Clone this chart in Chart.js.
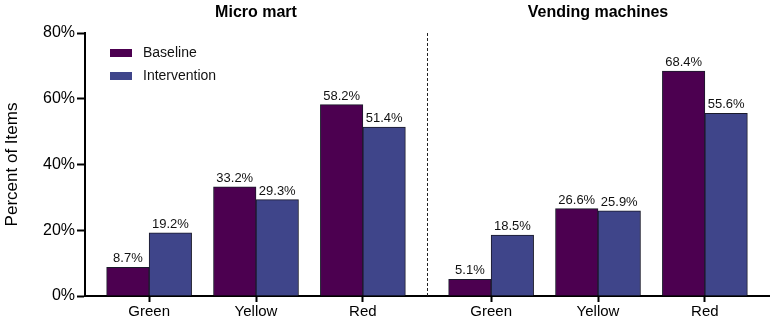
<!DOCTYPE html>
<html>
<head>
<meta charset="utf-8">
<script src="https://cdn.jsdelivr.net/npm/chart.js@4.4.1/dist/chart.umd.min.js"></script>
<style>
  html, body { margin: 0; padding: 0; background: #fff; }
  #wrap { width: 774px; height: 325px; }
</style>
</head>
<body>
<div id="wrap"><canvas id="barChart"></canvas></div>
<script>
// categories and where they sit on the x axis (gap between the two settings)
const categories = ["Green", "Yellow", "Red", "Green", "Yellow", "Red"];
const positions = [0, 1, 2, 3.2, 4.2, 5.2];
const groupTitles = ["Micro mart", "Vending machines"];
const groupCenters = [1, 4.2];
const dividerAt = 2.6;

const seriesNames = ["Baseline", "Intervention"];
const baseline = [8.7, 33.2, 58.2, 5.1, 26.6, 68.4];
const intervention = [19.2, 29.3, 51.4, 18.5, 25.9, 55.6];
const yTicks = [0, 20, 40, 60, 80];

const colors = ["#4c0050", "#3f458a"];
const font = "'Liberation Sans', Arial, sans-serif";

function toPoints(values) {
  return values.map((v, i) => ({ x: positions[i], y: v }));
}

const extras = {
  id: "extras",
  afterDatasetsDraw(chart) {
    const ctx = chart.ctx;
    const area = chart.chartArea;
    const xs = chart.scales.x;

    // value labels above bars
    ctx.save();
    ctx.fillStyle = "#111";
    ctx.font = "13px " + font;
    ctx.textAlign = "center";
    ctx.textBaseline = "bottom";
    chart.data.datasets.forEach((ds, di) => {
      chart.getDatasetMeta(di).data.forEach((bar, i) => {
        ctx.fillText(ds.data[i].y.toFixed(1) + "%", bar.x, bar.y - 2);
      });
    });

    // dashed divider
    const dx = Math.round(xs.getPixelForValue(dividerAt)) + 0.5;
    ctx.strokeStyle = "#222";
    ctx.lineWidth = 1;
    ctx.setLineDash([3, 2]);
    ctx.beginPath();
    ctx.moveTo(dx, area.top);
    ctx.lineTo(dx, area.bottom);
    ctx.stroke();
    ctx.setLineDash([]);

    // group titles
    ctx.fillStyle = "#000";
    ctx.font = "bold 16px " + font;
    ctx.textBaseline = "middle";
    groupTitles.forEach((t, i) => {
      ctx.fillText(t, xs.getPixelForValue(groupCenters[i]), 13);
    });

    // legend inside the plot
    ctx.font = "14px " + font;
    ctx.textAlign = "left";
    seriesNames.forEach((name, i) => {
      const y = 53 + i * 23;
      ctx.fillStyle = colors[i];
      ctx.fillRect(110, y - 4, 22, 8);
      ctx.fillStyle = "#111";
      ctx.fillText(name, 143, y);
    });
    ctx.restore();
  }
};

new Chart(document.getElementById("barChart"), {
  type: "bar",
  data: {
    datasets: [
      { label: seriesNames[0], data: toPoints(baseline), backgroundColor: colors[0] },
      { label: seriesNames[1], data: toPoints(intervention), backgroundColor: colors[1] }
    ].map(ds => Object.assign(ds, {
      borderColor: "#1a1a2a",
      borderWidth: 1,
      borderSkipped: "bottom",
      barThickness: 42.5
    }))
  },
  options: {
    responsive: true,
    maintainAspectRatio: false,
    animation: false,
    layout: { padding: { top: 33, right: 5, left: 0, bottom: 0 } },
    plugins: {
      legend: { display: false },
      tooltip: { enabled: false }
    },
    scales: {
      x: {
        type: "linear",
        min: -0.6,
        max: 5.8,
        offset: false,
        afterBuildTicks: (scale) => {
          scale.ticks = positions.map(v => ({ value: v }));
        },
        afterFit: (scale) => { scale.height = 29; },
        ticks: {
          color: "#000",
          font: { family: font, size: 15 },
          padding: 1,
          maxRotation: 0,
          autoSkip: false,
          callback: (v, i) => categories[i]
        },
        grid: {
          offset: false,
          drawOnChartArea: false,
          drawTicks: true,
          tickLength: 6,
          tickColor: "#000",
          tickWidth: 2
        },
        border: { display: true, color: "#000", width: 2 }
      },
      y: {
        min: 0,
        max: 80,
        afterBuildTicks: (scale) => {
          scale.ticks = yTicks.map(v => ({ value: v }));
        },
        afterFit: (scale) => { scale.width = 85; },
        ticks: {
          color: "#000",
          font: { family: font, size: 16 },
          padding: 2,
          callback: (v) => v + "%"
        },
        title: {
          display: true,
          text: "Percent of Items",
          color: "#000",
          font: { family: font, size: 17 },
          padding: { top: 2, bottom: 0 }
        },
        grid: {
          drawOnChartArea: false,
          drawTicks: true,
          tickLength: 8,
          tickColor: "#000",
          tickWidth: 2
        },
        border: { display: true, color: "#000", width: 2 }
      }
    }
  },
  plugins: [extras]
});
</script>
</body>
</html>
